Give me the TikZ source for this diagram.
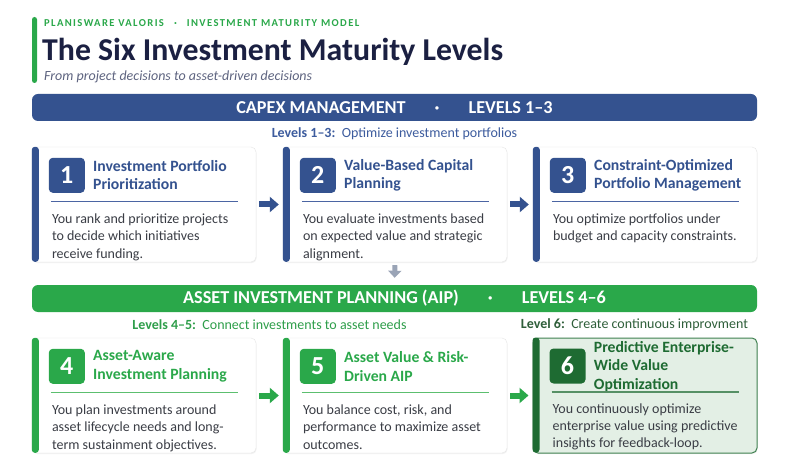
\documentclass[tikz,border=0pt]{standalone}
\usepackage{fontspec}
\setmainfont{Carlito}
\usetikzlibrary{arrows.meta,shadows}
\definecolor{capblue}{HTML}{34528F}
\definecolor{aipgreen}{HTML}{2AA84A}
\definecolor{darkgreen}{HTML}{1E6B32}
\definecolor{bodytxt}{HTML}{3A3D45}
\definecolor{titlenavy}{HTML}{1B2042}
\definecolor{subgray}{HTML}{5E6480}
\definecolor{cardbgsix}{HTML}{E3EFE5}
\definecolor{arrowgray}{HTML}{9AA4B6}
\definecolor{lvlblue}{HTML}{3D5C9E}
\definecolor{lvlgreen}{HTML}{2E9E4A}
\definecolor{lvlsix}{HTML}{2F5F3A}
\definecolor{divblue}{HTML}{4B65A3}
\definecolor{divgreen}{HTML}{5CBF6F}
\begin{document}
\begin{tikzpicture}[x=1pt,y=-1pt,
  card/.style={draw=black!10, fill=white, rounded corners=5pt, minimum width=224pt, minimum height=115pt, inner sep=0pt,
    drop shadow={opacity=0.10,shadow xshift=0.6pt,shadow yshift=-1.2pt}},
  banner/.style={rounded corners=6pt, minimum width=725pt, minimum height=27pt, inner sep=0pt, text=white,
    font=\fontsize{18.2}{18}\selectfont\bfseries},
  numbox/.style={rounded corners=4pt, minimum width=36pt, minimum height=35pt, inner sep=0pt, text=white,
    font=\fontsize{26}{26}\selectfont\bfseries},
  ttl/.style={anchor=west, align=left, inner sep=0pt, font=\fontsize{15.7}{18.5}\selectfont\bfseries},
  body/.style={anchor=north west, align=left, inner sep=0pt, text=bodytxt, font=\fontsize{14}{17.2}\selectfont},
  lvl/.style={inner sep=0pt, font=\fontsize{14}{14}\selectfont},
  barrow/.style={line width=6pt, -{Triangle[length=9pt,width=15pt]}, shorten <=3pt, shorten >=4pt},
  divider/.style={line width=1.1pt}
]
\useasboundingbox (0,0) rectangle (789,470);
\fill[white] (0,0) rectangle (789,470);

% header
\fill[aipgreen, rounded corners=2.5pt] (32,17) rectangle (37,83);
\node[anchor=west, inner sep=0pt, text=aipgreen, font=\fontsize{10.6}{10}\selectfont\bfseries\addfontfeatures{LetterSpace=13}] (hdr) at (44,23.5)
  {PLANISWARE VALORIS\hspace{10pt}·\hspace{10pt}INVESTMENT MATURITY MODEL};
\node[anchor=west, inner sep=0pt, text=titlenavy, font=\fontsize{31.8}{32}\selectfont\bfseries] (title) at (42,51.5)
  {The Six Investment Maturity Levels};
\node[anchor=west, inner sep=0pt, text=subgray, font=\fontsize{14}{14}\selectfont\itshape] (subtitle) at (44,77)
  {From project decisions to asset-driven decisions};

% banners
\node[banner, fill=capblue] (b1) at (394.5,107.5) {CAPEX MANAGEMENT\hspace{29pt}·\hspace{29pt}LEVELS 1–3};
\node[banner, fill=aipgreen] (b2) at (394.5,298.5) {ASSET INVESTMENT PLANNING (AIP)\hspace{29pt}·\hspace{29pt}LEVELS 4–6};

% level captions
\node[lvl, text=lvlblue] (l1) at (394.5,134) {\textbf{Levels 1–3:}\ \ Optimize investment portfolios};
\node[lvl, text=lvlgreen] (l2) at (269.5,325) {\textbf{Levels 4–5:}\ \ Connect investments to asset needs};
\node[lvl, text=lvlsix] (l3) at (634.5,325) {\textbf{Level 6:}\ \ Create continuous improvment};

% cards row 1
\node[card] (c1) at (144,204.5) {};
\node[card] (c2) at (395,204.5) {};
\node[card] (c3) at (645,204.5) {};
% cards row 2
\node[card] (c4) at (144,395.5) {};
\node[card] (c5) at (395,395.5) {};
\node[card, fill=cardbgsix, draw=darkgreen!85, line width=1pt] (c6) at (645,395.5) {};

% left bars
\foreach \c/\col in {c1/capblue,c2/capblue,c3/capblue,c4/aipgreen,c5/aipgreen,c6/darkgreen}{
  \fill[\col, rounded corners=3pt] (\c.north west) rectangle ++(7,115);
}

% number boxes
\foreach \c/\n/\col in {c1/1/capblue,c2/2/capblue,c3/3/capblue,c4/4/aipgreen,c5/5/aipgreen,c6/6/darkgreen}{
  \node[numbox, fill=\col] (n\n) at ([xshift=35pt,yshift=-28.5pt]\c.north west) {\n};
}

% titles
\node[ttl, text=capblue] (t1) at ([xshift=8pt]n1.east) {Investment Portfolio\\Prioritization};
\node[ttl, text=capblue] (t2) at ([xshift=8pt]n2.east) {Value-Based Capital\\Planning};
\node[ttl, text=capblue] (t3) at ([xshift=8pt]n3.east) {Constraint-Optimized\\Portfolio Management};
\node[ttl, text=aipgreen] (t4) at ([xshift=8pt]n4.east) {Asset-Aware\\Investment Planning};
\node[ttl, text=aipgreen] (t5) at ([xshift=8pt]n5.east) {Asset Value \& Risk-\\Driven AIP};
\node[ttl, text=darkgreen] (t6) at ([xshift=8pt,yshift=-0.5pt]n6.east) {Predictive Enterprise-\\Wide Value\\Optimization};

% dividers
\foreach \c/\col in {c1/divblue,c2/divblue,c3/divblue,c4/divgreen,c5/divgreen,c6/darkgreen!75}{
  \draw[divider, \col] ([xshift=19pt,yshift=-54.5pt]\c.north west) -- ++(187,0);
}

% bodies
\node[body] (d1) at ([xshift=20pt,yshift=-67pt]c1.north west) {You rank and prioritize projects\\to decide which initiatives\\receive funding.};
\node[body] (d2) at ([xshift=20pt,yshift=-67pt]c2.north west) {You evaluate investments based\\on expected value and strategic\\alignment.};
\node[body] (d3) at ([xshift=20pt,yshift=-67pt]c3.north west) {You optimize portfolios under\\budget and capacity constraints.};
\node[body] (d4) at ([xshift=20pt,yshift=-67pt]c4.north west) {You plan investments around\\asset lifecycle needs and long-\\term sustainment objectives.};
\node[body] (d5) at ([xshift=20pt,yshift=-67pt]c5.north west) {You balance cost, risk, and\\performance to maximize asset\\outcomes.};
\node[body] (d6) at ([xshift=20pt,yshift=-66pt]c6.north west) {You continuously optimize\\enterprise value using predictive\\insights for feedback-loop.};

% arrows
\draw[barrow, capblue] (c1.east) -- (c2.west);
\draw[barrow, capblue] (c2.east) -- (c3.west);
\draw[barrow, aipgreen] (c4.east) -- (c5.west);
\draw[barrow, aipgreen] (c5.east) -- (c6.west);
\draw[line width=5pt, arrowgray, -{Triangle[length=7pt,width=13pt]}, shorten <=3pt, shorten >=7pt] (c2.south) -- (b2.north);
\end{tikzpicture}
\end{document}
